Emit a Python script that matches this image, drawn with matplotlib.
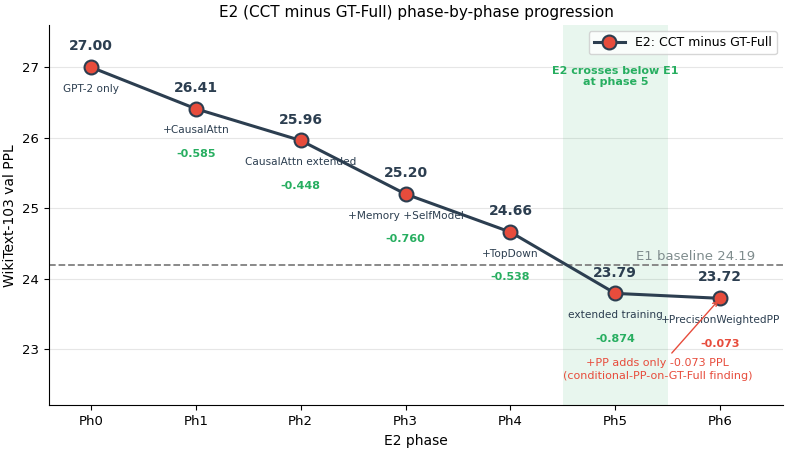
import matplotlib.pyplot as plt

phases = ["Ph0", "Ph1", "Ph2", "Ph3", "Ph4", "Ph5", "Ph6"]
ppl = [27.00, 26.41, 25.96, 25.20, 24.66, 23.79, 23.72]
steps = ["GPT-2 only", "+CausalAttn", "CausalAttn extended", "+Memory +SelfModel",
         "+TopDown", "extended training", "+PrecisionWeightedPP"]
deltas = [None, -0.585, -0.448, -0.760, -0.538, -0.874, -0.073]
e1_baseline = 24.19

line_c = '#2c3e50'
red = '#e74c3c'
green = '#27ae60'

fig, ax = plt.subplots(figsize=(7.91, 4.53), dpi=100)
x = list(range(len(phases)))

ax.axvspan(4.5, 5.5, color=green, alpha=0.1, lw=0)
ax.axhline(e1_baseline, color='gray', linestyle='--', linewidth=1.3)
ax.text(6.33, e1_baseline + 0.03, f"E1 baseline {e1_baseline}", color='#7f8c8d',
        ha='right', va='bottom', fontsize=9.5)

ax.plot(x, ppl, color=line_c, linewidth=2.2, marker='o', markersize=10,
        markerfacecolor=red, markeredgecolor=line_c, markeredgewidth=1.5,
        label='E2: CCT minus GT-Full', zorder=3)

for i, v in enumerate(ppl):
    ax.annotate(f"{v:.2f}", (i, v), xytext=(0, 10), textcoords='offset points',
                ha='center', va='bottom', fontsize=10, fontweight='bold', color=line_c)
    ax.annotate(steps[i], (i, v), xytext=(0, -12), textcoords='offset points',
                ha='center', va='top', fontsize=7.6, color=line_c)
    if deltas[i] is not None:
        ax.annotate(f"{deltas[i]:.3f}", (i, v), xytext=(0, -29), textcoords='offset points',
                    ha='center', va='top', fontsize=8, fontweight='bold',
                    color=red if i == 6 else green)

ax.text(5.0, 26.87, "E2 crosses below E1\nat phase 5", color=green, ha='center',
        va='center', fontsize=8, fontweight='bold')

ax.annotate("+PP adds only -0.073 PPL\n(conditional-PP-on-GT-Full finding)",
            xy=(6, ppl[6]), xytext=(5.4, 22.71), ha='center', va='center',
            fontsize=8, color=red, linespacing=1.4,
            arrowprops=dict(arrowstyle='->', color=red, lw=1))

ax.set_xticks(x)
ax.set_xticklabels(phases)
ax.tick_params(labelsize=9.5)
ax.set_xlim(-0.4, 6.6)
ax.set_ylim(22.2, 27.6)
ax.set_yticks([23, 24, 25, 26, 27])
ax.grid(True, axis='y', color='#e6e6e6', linewidth=0.8)
ax.set_axisbelow(True)
ax.spines['top'].set_visible(False)
ax.spines['right'].set_visible(False)
ax.set_xlabel("E2 phase", fontsize=10)
ax.set_ylabel("WikiText-103 val PPL", fontsize=10)
ax.set_title("E2 (CCT minus GT-Full) phase-by-phase progression", fontsize=11)
ax.legend(loc='upper right', fontsize=9, handlelength=2.5)

fig.subplots_adjust(left=0.062, right=0.99, top=0.945, bottom=0.105)
fig.savefig("out.png", dpi=100)
